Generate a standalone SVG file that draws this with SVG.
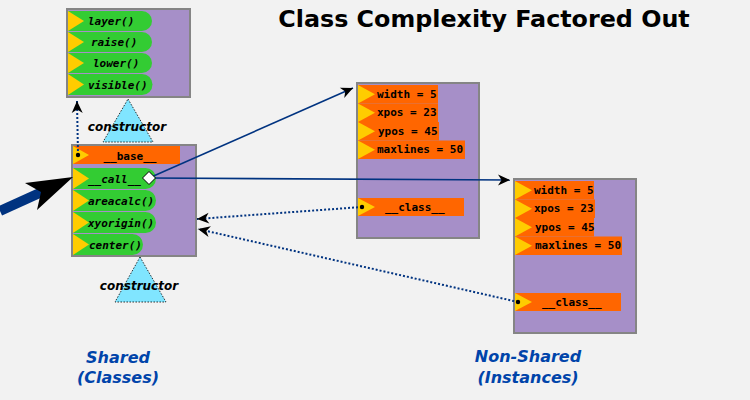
<svg xmlns="http://www.w3.org/2000/svg" width="750" height="400" viewBox="0 0 750 400">
<defs>
<style>
.box{fill:#a68fc8;stroke:#858585;stroke-width:2}
.pill{fill:#33cc33}
.orow{fill:#ff6600}
.tri{fill:#ffcc00}
.mi{font-family:"DejaVu Sans Mono",monospace;font-weight:bold;font-style:italic;font-size:11px;fill:#000}
.mn{font-family:"DejaVu Sans Mono",monospace;font-weight:bold;font-size:11px;fill:#000}
.ctor{fill:#80e5ff;stroke:#000;stroke-width:0.8;stroke-dasharray:1.5 1.5}
.ct{font-family:"DejaVu Sans",sans-serif;font-weight:bold;font-style:italic;font-size:12px;fill:#000;text-anchor:middle}
.lbl{font-family:"DejaVu Sans",sans-serif;font-weight:bold;font-style:italic;font-size:16px;fill:#0044aa;text-anchor:middle}
.solid{fill:none;stroke:#003380;stroke-width:1.6}
.dot{fill:none;stroke:#003380;stroke-width:2;stroke-dasharray:2 2}
</style>
<marker id="ah" viewBox="-13 -6 14 12" refX="0" refY="0" markerWidth="14" markerHeight="12" markerUnits="userSpaceOnUse" orient="auto">
<path d="M0,0 L-12,-5.5 L-8.5,0 L-12,5.5 Z" fill="#000"/>
</marker>
</defs>
<rect width="750" height="400" fill="#f2f2f2"/>
<text x="484" y="27" text-anchor="middle" font-family="DejaVu Sans,sans-serif" font-weight="bold" font-size="23.8" fill="#000">Class Complexity Factored Out</text>

<g id="shared-top">
<rect class="box" x="67" y="9" width="123" height="88"/>
<path class="pill" d="M68,11 H142 A10,10 0 0 1 142,31 H68 Z"/>
<path class="tri" d="M68,11 L84,21 L68,31 Z"/>
<text class="mi" x="88" y="25">layer()</text>
<path class="pill" d="M68,32 H142 A10,10 0 0 1 142,52 H68 Z"/>
<path class="tri" d="M68,32 L84,42 L68,52 Z"/>
<text class="mi" x="91" y="46">raise()</text>
<path class="pill" d="M68,53 H142 A10,10 0 0 1 142,73 H68 Z"/>
<path class="tri" d="M68,53 L84,63 L68,73 Z"/>
<text class="mi" x="93" y="67">lower()</text>
<path class="pill" d="M68,74 H142 A10.5,10.5 0 0 1 142,95 H68 Z"/>
<path class="tri" d="M68,74 L84,84.5 L68,95 Z"/>
<text class="mi" x="88" y="88.5">visible()</text>
</g>

<g id="ctor-top">
<path class="ctor" d="M128,99 L153,142 L103,142 Z"/>
<text class="ct" x="127" y="131">constructor</text>
</g>

<g id="shared-mid">
<rect class="box" x="72" y="145" width="124" height="111"/>
<rect class="orow" x="73" y="146" width="107" height="18"/>
<path class="tri" d="M73,146 L89,155 L73,164 Z"/>
<text class="mn" x="130" y="159.5" text-anchor="middle">__base__</text>
<path class="pill" d="M73,168 H145.5 A10.5,10.5 0 0 1 145.5,189 H73 Z"/>
<path class="tri" d="M73,168 L89,178.5 L73,189 Z"/>
<text class="mi" x="88" y="182.5">__call__</text>
<path class="pill" d="M73,190 H145.5 A10.5,10.5 0 0 1 145.5,211 H73 Z"/>
<path class="tri" d="M73,190 L89,200.5 L73,211 Z"/>
<text class="mi" x="88" y="204.5">areacalc()</text>
<path class="pill" d="M73,212 H145.5 A10.5,10.5 0 0 1 145.5,233 H73 Z"/>
<path class="tri" d="M73,212 L89,222.5 L73,233 Z"/>
<text class="mi" x="88" y="226.5">xyorigin()</text>
<path class="pill" d="M73,234 H132.5 A10.5,10.5 0 0 1 132.5,255 H73 Z"/>
<path class="tri" d="M73,234 L89,244.5 L73,255 Z"/>
<text class="mi" x="89" y="248.5">center()</text>
</g>

<g id="ctor-bottom">
<path class="ctor" d="M140,257 L166,302 L115,302 Z"/>
<text class="ct" x="139" y="290">constructor</text>
</g>

<g id="instance-1">
<rect class="box" x="357" y="83" width="122" height="155"/>
<rect class="orow" x="358" y="85" width="80" height="18.5"/>
<path class="tri" d="M358,85 L375,94.25 L358,103.5 Z"/>
<text class="mn" x="377" y="97.5">width = 5</text>
<rect class="orow" x="358" y="103.5" width="80" height="18.5"/>
<path class="tri" d="M358,103.5 L375,112.75 L358,122 Z"/>
<text class="mn" x="377" y="116">xpos = 23</text>
<rect class="orow" x="358" y="122" width="81" height="18.5"/>
<path class="tri" d="M358,122 L375,131.25 L358,140.5 Z"/>
<text class="mn" x="378" y="134.5">ypos = 45</text>
<rect class="orow" x="358" y="140.5" width="107" height="18.5"/>
<path class="tri" d="M358,140.5 L375,149.75 L358,159 Z"/>
<text class="mn" x="377" y="153">maxlines = 50</text>
<rect class="orow" x="358" y="198" width="106" height="18"/>
<path class="tri" d="M358,198 L375,207 L358,216 Z"/>
<text class="mn" x="385" y="211">__class__</text>
</g>

<g id="instance-2">
<rect class="box" x="514" y="179" width="122" height="154"/>
<rect class="orow" x="515" y="181" width="79" height="18.5"/>
<path class="tri" d="M515,181 L532,190.25 L515,199.5 Z"/>
<text class="mn" x="534" y="193.5">width = 5</text>
<rect class="orow" x="515" y="199.5" width="80" height="18.5"/>
<path class="tri" d="M515,199.5 L532,208.75 L515,218 Z"/>
<text class="mn" x="534" y="212">xpos = 23</text>
<rect class="orow" x="515" y="218" width="79" height="18.5"/>
<path class="tri" d="M515,218 L532,227.25 L515,236.5 Z"/>
<text class="mn" x="535" y="230.5">ypos = 45</text>
<rect class="orow" x="515" y="236.5" width="107" height="18.5"/>
<path class="tri" d="M515,236.5 L532,245.75 L515,255 Z"/>
<text class="mn" x="535" y="249">maxlines = 50</text>
<rect class="orow" x="515" y="293" width="106" height="18"/>
<path class="tri" d="M515,293 L532,302 L515,311 Z"/>
<text class="mn" x="542" y="306">__class__</text>
</g>

<g id="connectors">
<line x1="0" y1="211" x2="44" y2="191" stroke="#003380" stroke-width="10"/>
<path d="M73,177 L25,183 L41,192 L37,210 Z" fill="#000"/>
<line class="solid" x1="149" y1="178" x2="353" y2="88" marker-end="url(#ah)"/>
<line class="solid" x1="149" y1="178" x2="510" y2="180" marker-end="url(#ah)"/>
<line class="dot" x1="362" y1="207" x2="197" y2="219" marker-end="url(#ah)"/>
<line class="dot" x1="518" y1="302" x2="198" y2="229" marker-end="url(#ah)"/>
<line class="dot" x1="78" y1="155" x2="77" y2="101" marker-end="url(#ah)"/>
<circle cx="78" cy="155" r="2.2" fill="#000"/>
<circle cx="362" cy="207" r="2.2" fill="#000"/>
<circle cx="518" cy="302" r="2.2" fill="#000"/>
<path d="M149,171.5 L155.5,178 L149,184.5 L142.5,178 Z" fill="#fff" stroke="#000" stroke-width="1"/>
</g>

<g id="labels">
<text class="lbl" x="118" y="363">Shared</text>
<text class="lbl" x="118" y="383">(Classes)</text>
<text class="lbl" x="528" y="362">Non-Shared</text>
<text class="lbl" x="528" y="383">(Instances)</text>
</g>
</svg>
